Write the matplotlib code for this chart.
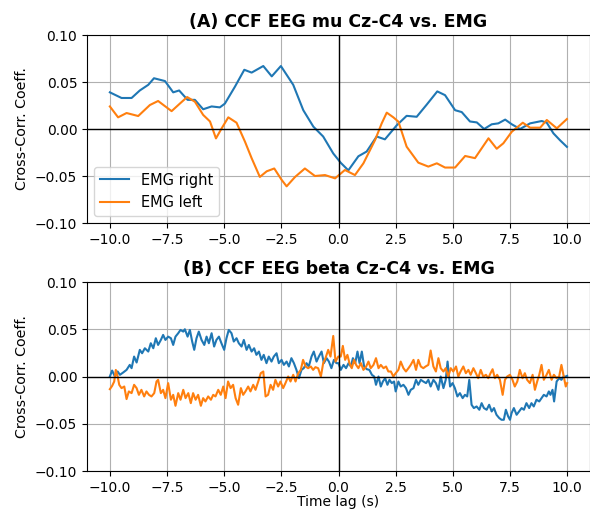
import matplotlib
matplotlib.use("Agg")
import matplotlib.pyplot as plt

# ---- Panel A (mu) ----
a_right_x = [-10, -9.49, -9.05, -8.69, -8.32, -8.07, -7.59, -7.23, -6.97, -6.6, -6.28, -5.92, -5.55, -5.19,
             -4.97, -4.53, -4.12, -3.8, -3.29, -2.92, -2.52, -1.98, -1.54, -1.1, -0.67, -0.23, 0.1, 0.43, 0.87,
             1.23, 1.67, 2.03, 2.55, 2.98, 3.42, 3.86, 4.32, 4.66, 5.1, 5.39, 5.75, 6.05, 6.37, 6.7, 6.99,
             7.29, 7.58, 7.94, 8.38, 8.89, 9.11, 9.4, 9.69, 9.99]
a_right_y = [0.039, 0.033, 0.033, 0.041, 0.047, 0.054, 0.051, 0.039, 0.041, 0.031, 0.031, 0.021, 0.024, 0.023,
             0.027, 0.045, 0.063, 0.060, 0.067, 0.056, 0.067, 0.047, 0.020, 0.0025, -0.008, -0.026, -0.036, -0.044,
             -0.029, -0.024, -0.008, -0.011, 0.004, 0.014, 0.013, 0.026, 0.040, 0.036, 0.020, 0.018, 0.008,
             0.007, 0.0, 0.005, 0.006, 0.010, 0.005, 0.0, 0.006, 0.0085, 0.0067, -0.0046, -0.012, -0.019]
a_left_x = [-10, -9.64, -9.27, -8.76, -8.25, -7.89, -7.3, -6.94, -6.62, -6.28, -5.92, -5.62, -5.36, -5.11,
            -4.82, -4.46, -4.09, -3.8, -3.44, -3.14, -2.81, -2.49, -2.27, -1.9, -1.47, -1.03, -0.59, -0.15,
            0.28, 0.72, 1.09, 1.6, 1.89, 2.11, 2.4, 2.62, 2.98, 3.49, 3.93, 4.3, 4.66, 5.1, 5.54, 5.97, 6.56,
            6.92, 7.21, 7.58, 8.06, 8.38, 8.82, 9.11, 9.55, 9.99]
a_left_y = [0.024, 0.0124, 0.017, 0.0138, 0.0255, 0.0298, 0.019, 0.027, 0.034, 0.029, 0.015, 0.008, -0.010,
            0.0007, 0.0124, 0.0067, -0.0135, -0.031, -0.051, -0.045, -0.042, -0.054, -0.061, -0.051, -0.042,
            -0.050, -0.049, -0.0525, -0.0436, -0.049, -0.0365, -0.0117, 0.006, 0.0174, 0.0124, 0.0078, -0.0188,
            -0.0358, -0.040, -0.0365, -0.041, -0.041, -0.0287, -0.031, -0.0099, -0.021, -0.0152, -0.0029,
            0.0067, 0.0014, 0.0014, 0.0096, 0.0007, 0.0106]

# ---- Panel B (beta) ----
b_right_x = [-10.00, -9.90, -9.78, -9.66, -9.56, -9.42, -9.27, -9.13, -9.05, -8.94, -8.83, -8.69, -8.59, -8.47,
             -8.32, -8.21, -8.10, -7.99, -7.89, -7.77, -7.67, -7.57, -7.45, -7.33, -7.23, -7.13, -7.01, -6.91,
             -6.79, -6.72, -6.60, -6.50, -6.40, -6.31, -6.21, -6.11, -5.99, -5.87, -5.77, -5.67, -5.55, -5.44,
             -5.34, -5.23, -5.12, -5.00, -4.90, -4.80, -4.68, -4.58, -4.46, -4.36, -4.24, -4.14, -4.02, -3.92,
             -3.80, -3.69, -3.59, -3.48, -3.37, -3.27, -3.15, -3.05, -2.93, -2.83, -2.71, -2.61, -2.49, -2.39,
             -2.27, -2.17, -2.06, -1.95, -1.84, -1.73, -1.62, -1.52, -1.40, -1.30, -1.18, -1.08, -0.96, -0.86,
             -0.74, -0.64, -0.52, -0.42, -0.31, -0.20, -0.09,
             0.00, 0.10, 0.22, 0.33, 0.44, 0.54, 0.63, 0.73, 0.83, 0.92, 1.02, 1.12, 1.24, 1.35, 1.46, 1.56,
             1.64, 1.75, 1.85, 1.94, 2.04, 2.14, 2.23, 2.33, 2.43, 2.50, 2.62, 2.72, 2.84, 2.95, 3.06, 3.16,
             3.28, 3.39, 3.49, 3.60, 3.71, 3.83, 3.93, 4.03, 4.15, 4.26, 4.37, 4.47, 4.59, 4.69, 4.77, 4.88,
             4.99, 5.09, 5.20, 5.31, 5.43, 5.53, 5.63, 5.72, 5.82, 5.92, 6.04, 6.16, 6.26, 6.36, 6.48, 6.59,
             6.70, 6.80, 6.91, 7.03, 7.13, 7.23, 7.32, 7.42, 7.50, 7.57, 7.67, 7.79, 7.90, 8.01, 8.11, 8.22,
             8.34, 8.44, 8.54, 8.66, 8.78, 8.88, 8.98, 9.10, 9.20, 9.27, 9.36, 9.43, 9.54, 9.65, 9.75, 9.85,
             9.94, 10.00]
b_right_y = [0.0, 0.0063, 0.0, 0.0053, 0.0018, 0.0042, 0.0070, 0.0123, 0.0088, 0.0211, 0.0148, 0.0282, 0.0246,
             0.0299, 0.0264, 0.0352, 0.0299, 0.0405, 0.0334, 0.0387, 0.044, 0.0387, 0.0422, 0.0405, 0.0334,
             0.0422, 0.0458, 0.0493, 0.0475, 0.050, 0.0422, 0.0493, 0.037, 0.0282, 0.0405, 0.0475, 0.0387,
             0.0334, 0.0422, 0.0352, 0.0458, 0.0317, 0.0387, 0.0422, 0.0352, 0.0282, 0.0405, 0.0493, 0.0458,
             0.037, 0.0405, 0.0352, 0.0317, 0.0387, 0.0282, 0.0334, 0.0264, 0.0299, 0.0229, 0.0264, 0.0176,
             0.0229, 0.0141, 0.0211, 0.0158, 0.0211, 0.0246, 0.0141, 0.0176, 0.0123, 0.0158, 0.0106, 0.0194,
             0.0141, 0.0070, -0.0018, 0.0070, 0.0088, 0.0141, 0.0106, 0.0211, 0.0264, 0.0158, 0.0211, 0.0264,
             0.0141, 0.0194, 0.0158, 0.0088, 0.0176, 0.0141,
             0.0141, 0.0070, 0.0123, 0.0088, 0.0141, 0.0106, 0.0194, 0.0141, 0.0264, 0.0141,
             0.0264, 0.0106, 0.0077, 0.0070, 0.0018, 0.0, -0.0088, 0.0, -0.0106, -0.0053,
             -0.0018, -0.0088, -0.0035, -0.0070, -0.0053, -0.0158, -0.0053, -0.0106, -0.0088, -0.0123,
             -0.0194, -0.0141, -0.0123, -0.0035, -0.0088, -0.0035, -0.0053, -0.0070, -0.0035, -0.0106,
             -0.0035, -0.0070, -0.0141, 0.0, -0.0123, -0.0035, 0.0158, -0.0106, -0.0070, -0.0123,
             -0.0211, -0.0176, -0.0229, -0.0194, -0.0211, -0.0035, -0.0299, -0.0334, -0.0317, -0.0352,
             -0.0282, -0.0334, -0.0352, -0.0299, -0.0370, -0.0334, -0.0405, -0.0440, -0.0458, -0.0458,
             -0.0352, -0.0422, -0.0458, -0.0387, -0.0334, -0.0405, -0.0370, -0.0334, -0.0352, -0.0282,
             -0.0334, -0.0282, -0.0317, -0.0246, -0.0264, -0.0229, -0.0194, -0.0211, -0.0158, -0.0194,
             -0.0141, -0.0264, -0.0053, -0.0018, -0.0035, 0.0, 0.0, 0.0007]

b_left_x = [-10.00, -9.90, -9.81, -9.74, -9.66, -9.59, -9.49, -9.37, -9.27, -9.17, -9.05, -8.94, -8.83, -8.73,
            -8.62, -8.50, -8.40, -8.29, -8.18, -8.06, -7.96, -7.89, -7.77, -7.67, -7.57, -7.45, -7.33, -7.23,
            -7.13, -7.01, -6.91, -6.79, -6.69, -6.57, -6.46, -6.36, -6.25, -6.14, -6.02, -5.92, -5.82, -5.70,
            -5.58, -5.48, -5.38, -5.26, -5.15, -5.04, -4.94, -4.83, -4.72, -4.61, -4.50, -4.39, -4.27, -4.17,
            -4.07, -3.95, -3.85, -3.73, -3.63, -3.51, -3.40, -3.29, -3.19, -3.08, -2.97, -2.86, -2.76, -2.64,
            -2.54, -2.42, -2.32, -2.20, -2.10, -1.98, -1.88, -1.76, -1.65, -1.55, -1.44, -1.33, -1.21, -1.11,
            -1.01, -0.89, -0.77, -0.67, -0.57, -0.45, -0.35, -0.23, -0.13, -0.01,
            0.10, 0.19, 0.29, 0.39, 0.48, 0.58, 0.68, 0.77, 0.87, 0.98, 1.09, 1.21, 1.31, 1.41, 1.53, 1.64,
            1.75, 1.85, 1.97, 2.08, 2.18, 2.29, 2.40, 2.50, 2.62, 2.72, 2.84, 2.95, 3.06, 3.16, 3.28, 3.39,
            3.49, 3.60, 3.71, 3.81, 3.93, 4.03, 4.15, 4.26, 4.37, 4.47, 4.59, 4.69, 4.80, 4.91, 5.02, 5.14,
            5.24, 5.34, 5.46, 5.57, 5.68, 5.78, 5.90, 6.01, 6.11, 6.22, 6.33, 6.45, 6.55, 6.65, 6.74, 6.84,
            6.94, 7.06, 7.18, 7.28, 7.38, 7.50, 7.61, 7.71, 7.82, 7.93, 8.05, 8.15, 8.25, 8.37, 8.49, 8.59,
            8.69, 8.78, 8.88, 8.98, 9.10, 9.20, 9.32, 9.42, 9.54, 9.65, 9.75, 9.85, 9.94, 10.00]
b_left_y = [-0.0134, -0.0099, -0.0053, 0.0070, 0.0, -0.0088, -0.0123, -0.0106, -0.0239, -0.0158,
            -0.0176, -0.0088, -0.0123, -0.0194, -0.0141, -0.0211, -0.0158, -0.0194, -0.0211, -0.0176,
            -0.0053, -0.0035, -0.0176, -0.0141, -0.0229, -0.0070, -0.0246, -0.0194, -0.0310, -0.0176,
            -0.0246, -0.0141, -0.0229, -0.0176, -0.0282, -0.0176, -0.0246, -0.0194, -0.0310, -0.0229,
            -0.0264, -0.0211, -0.0246, -0.0194, -0.0211, -0.0141, -0.0194, -0.0106, -0.0229, -0.0053,
            -0.0123, -0.0088, -0.0229, -0.0299, -0.0123, -0.0194, -0.0158, -0.0106, -0.0158, -0.0088,
            -0.0141, -0.0053, 0.0035, 0.0053, -0.0211, -0.0194, -0.0088, -0.0141, -0.0035, -0.0106,
            -0.0053, -0.0123, -0.0070, 0.0, -0.0053, 0.0018, -0.0053, 0.0035, 0.0070, 0.0176,
            0.0106, 0.0088, 0.0106, 0.0070, 0.0099, 0.0088, 0.0, 0.0141, 0.0194, 0.0282,
            0.0211, 0.0429, 0.0158, 0.0211,
            0.0211, 0.0324, 0.0176, 0.0229, 0.0141, 0.0088, 0.0176, 0.0123, 0.0088, 0.0141,
            0.0070, 0.0106, 0.0158, 0.0088, 0.0123, 0.0194, 0.0088, 0.0123, 0.0088, 0.0106,
            0.0053, 0.0053, 0.0, 0.0035, 0.0070, 0.0158, 0.0088, 0.0053, 0.0088, 0.0123,
            0.0176, 0.0070, 0.0176, 0.0106, 0.0088, 0.0106, 0.0123, 0.0275, 0.0106, 0.0053,
            0.0194, 0.0088, 0.0053, 0.0088, 0.0, 0.0088, 0.0053, 0.0106, 0.0, 0.0053,
            0.0106, 0.0035, 0.0070, 0.0018, 0.0088, 0.0035, -0.0018, 0.0070, 0.0, 0.0018,
            -0.0018, 0.0035, 0.0077, -0.0018, 0.0018, -0.0035, -0.0194, -0.0035, 0.0, 0.0018,
            -0.0035, -0.0106, -0.0053, 0.0070, -0.0018, 0.0035, -0.0035, -0.0070, 0.0018, -0.0141,
            -0.0053, 0.0018, 0.0123, -0.0035, 0.0018, 0.0070, -0.0035, 0.0018, -0.0018, 0.0,
            0.0123, 0.0, -0.0106, -0.0070]

xticks = [-10.0, -7.5, -5.0, -2.5, 0.0, 2.5, 5.0, 7.5, 10.0]
yticks = [-0.10, -0.05, 0.00, 0.05, 0.10]

fig = plt.figure(figsize=(5.9, 5.11), dpi=100)
W, H = 590.0, 511.0
ax1 = fig.add_axes([87 / W, 1 - 223 / H, 503 / W, 188 / H])
ax2 = fig.add_axes([87 / W, 1 - 471 / H, 503 / W, 189 / H])

panels = [
    (ax1, a_right_x, a_right_y, a_left_x, a_left_y, "(A) CCF EEG mu Cz-C4 vs. EMG"),
    (ax2, b_right_x, b_right_y, b_left_x, b_left_y, "(B) CCF EEG beta Cz-C4 vs. EMG"),
]
for ax, rx, ry, lx, ly, title in panels:
    ax.plot(rx, ry, color="#1f77b4", lw=1.5, label="EMG right")
    ax.plot(lx, ly, color="#ff7f0e", lw=1.5, label="EMG left")
    ax.axhline(0, color="black", lw=1.0)
    ax.axvline(0, color="black", lw=1.0)
    ax.set_xlim(-11, 11)
    ax.set_ylim(-0.1, 0.1)
    ax.set_xticks(xticks)
    ax.set_yticks(yticks)
    ax.tick_params(labelsize=10)
    ax.grid(True, color="#b0b0b0", lw=0.8)
    ax.set_axisbelow(True)
    ax.set_ylabel("Cross-Corr. Coeff.", fontsize=10.3)
    ax.set_title(title, fontsize=12.5, fontweight="bold", pad=6)

ax1.legend(loc="lower left", fontsize=10.5)
ax2.set_xlabel("Time lag (s)", fontsize=10, labelpad=0.5)

fig.savefig("out.png", dpi=100)
